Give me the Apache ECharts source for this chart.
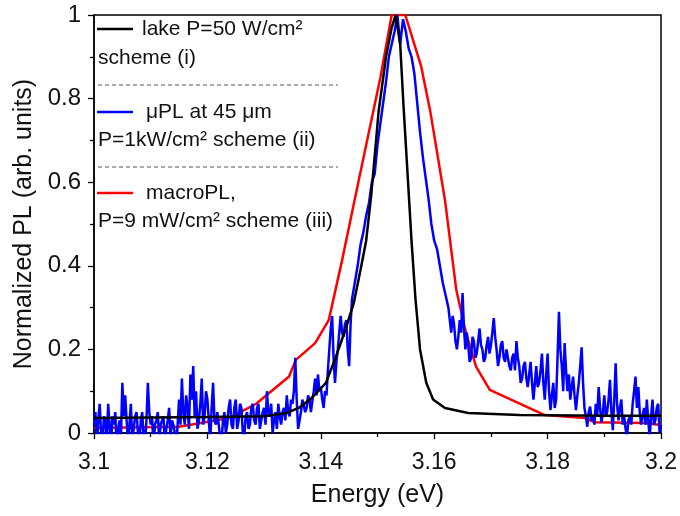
<!DOCTYPE html>
<html><head><meta charset="utf-8">
<script src="https://cdn.jsdelivr.net/npm/echarts@6/dist/echarts.min.js"></script>
<style>html,body{margin:0;padding:0;background:#fff}#c{width:680px;height:516px}</style>
</head><body><div id="c"></div>
<script>
// Energy (eV) and normalized PL values
var lakeData = [[3.1000,0.036],[3.1100,0.037],[3.1200,0.038],[3.1300,0.040],[3.1340,0.048],[3.1361,0.060],[3.1384,0.084],[3.1409,0.12],[3.1426,0.18],[3.1444,0.25],[3.1458,0.31],[3.1470,0.39],[3.1480,0.46],[3.1489,0.57],[3.1502,0.77],[3.1515,0.90],[3.1525,0.97],[3.1532,1.0],[3.1540,0.93],[3.1546,0.78],[3.1553,0.62],[3.1560,0.46],[3.1567,0.32],[3.1575,0.20],[3.1586,0.12],[3.1598,0.08],[3.1619,0.06],[3.1660,0.048],[3.1750,0.043],[3.1900,0.041],[3.2000,0.041]];

var macroData = [[3.1000,0.012],[3.1150,0.015],[3.1239,0.036],[3.1286,0.07],[3.1344,0.135],[3.1356,0.175],[3.1390,0.215],[3.1414,0.27],[3.1437,0.41],[3.1467,0.605],[3.1505,0.85],[3.1525,1.0],[3.1549,1.0],[3.1577,0.877],[3.1593,0.77],[3.1619,0.557],[3.1639,0.342],[3.1656,0.24],[3.1674,0.158],[3.1698,0.103],[3.1795,0.043],[3.1865,0.036],[3.1882,0.026],[3.1970,0.024],[3.2000,0.019]];

var muPLData = [
[3.1000,0.02],[3.10025,0.05],[3.1005,-0.03],[3.10075,0.03],[3.1010,0.07],[3.10125,0.00],[3.1015,-0.02],[3.10175,0.04],[3.1020,0.03],[3.10225,-0.02],
[3.1025,0.07],[3.10275,0.02],[3.1030,-0.03],[3.10325,0.04],[3.1035,0.02],[3.10375,0.05],[3.1040,-0.04],[3.10425,0.01],[3.1045,0.03],[3.10475,-0.01],
[3.1050,0.12],[3.10525,0.04],[3.1055,0.09],[3.10575,0.03],[3.1060,-0.02],[3.10625,0.02],[3.1065,0.07],[3.10675,-0.02],[3.1070,0.01],[3.10725,0.04],
[3.1075,0.05],[3.10775,0.00],[3.1080,-0.03],[3.10825,0.03],[3.1085,0.05],[3.10875,-0.01],[3.1090,-0.02],[3.10925,0.03],[3.1095,0.12],[3.10975,0.05],
[3.1100,0.02],[3.11025,0.04],[3.1105,-0.04],[3.11075,0.02],[3.1110,0.03],[3.11125,0.05],[3.1115,-0.02],[3.11175,0.02],[3.1120,0.02],[3.11225,0.04],
[3.1125,-0.03],[3.11275,0.01],[3.1130,0.03],[3.11325,0.06],[3.1135,-0.01],[3.11375,0.03],[3.1140,0.02],[3.11425,0.00],[3.1145,-0.03],[3.11475,0.02],
[3.1150,0.08],[3.11525,0.02],[3.1155,0.13],[3.11575,0.05],[3.1160,0.02],[3.11625,0.09],[3.1165,0.06],[3.11675,0.01],[3.1170,0.14],[3.11725,0.08],
[3.1175,0.16],[3.11775,0.04],[3.1180,0.10],[3.11825,0.01],[3.1185,0.03],[3.11875,0.07],[3.1190,0.13],[3.11925,0.02],[3.1195,0.04],[3.11975,0.10],
[3.1200,0.08],[3.12025,0.03],[3.1205,-0.02],[3.12075,0.06],[3.1210,0.12],[3.12125,0.03],[3.1215,0.02],[3.12175,0.05],[3.1220,0.05],[3.12225,-0.01],
[3.1225,-0.02],[3.12275,0.03],[3.1230,0.05],[3.12325,0.00],[3.1235,0.02],[3.12375,0.06],[3.1240,0.08],[3.12425,0.02],[3.1245,0.01],[3.12475,0.06],
[3.1250,0.08],[3.12525,0.01],[3.1255,0.03],[3.12575,0.07],[3.1260,0.06],[3.12625,0.00],[3.1265,-0.01],[3.12675,0.04],[3.1270,0.05],[3.12725,0.01],
[3.1275,0.02],[3.12775,0.06],[3.1280,0.07],[3.12825,0.03],[3.1285,0.02],[3.12875,0.06],[3.1290,0.07],[3.12925,0.01],[3.1295,0.03],[3.12975,0.05],
[3.1300,0.06],[3.13025,0.02],[3.1305,0.10],[3.13075,0.05],[3.1310,0.04],[3.13125,0.07],[3.1315,0.00],[3.13175,0.03],[3.1320,0.05],[3.13225,0.01],
[3.1325,0.07],[3.13275,0.04],[3.1330,0.02],[3.13325,0.05],[3.1335,0.06],[3.13375,0.03],[3.1340,0.09],[3.13425,0.05],[3.1345,0.04],[3.13475,0.08],
[3.1350,0.07],[3.13525,0.10],[3.1355,0.18],[3.13575,0.08],[3.1360,0.01],[3.13625,0.03],[3.1365,0.05],[3.13675,0.08],[3.1370,0.08],[3.13725,0.05],
[3.1375,0.06],[3.13775,0.09],[3.1380,0.08],[3.13825,0.05],[3.1385,0.05],[3.13875,0.10],[3.1390,0.13],[3.13925,0.09],[3.1395,0.14],[3.13975,0.10],
[3.1400,0.11],[3.14025,0.08],[3.1405,0.06],[3.14075,0.10],[3.1410,0.09],[3.14125,0.15],[3.1415,0.20],[3.14175,0.25],[3.1420,0.28],[3.14225,0.18],
[3.1425,0.12],[3.14275,0.17],[3.1430,0.20],[3.14325,0.24],[3.1435,0.28],[3.14375,0.24],[3.1440,0.23],[3.14425,0.26],[3.1445,0.27],[3.14475,0.20],
[3.1450,0.16],[3.14525,0.26],[3.1455,0.32],[3.14575,0.34],[3.1460,0.36],[3.1465,0.40],[3.1470,0.45],[3.1475,0.48],[3.1480,0.52],[3.1485,0.55],
[3.1490,0.60],[3.1495,0.62],[3.1500,0.69],[3.1505,0.74],[3.1510,0.79],[3.1515,0.84],[3.1520,0.90],[3.1525,0.93],[3.1530,0.96],[3.1535,1.00],
[3.1540,0.93],[3.1545,0.99],[3.1550,0.96],[3.1555,0.92],[3.1560,0.90],[3.1565,0.86],[3.1570,0.79],[3.1575,0.72],[3.1580,0.66],[3.1585,0.61],
[3.1590,0.56],[3.1595,0.50],[3.1600,0.46],[3.1605,0.44],[3.1610,0.40],[3.1615,0.36],[3.1620,0.33],[3.1625,0.30],
[3.1630,0.24],[3.16325,0.28],[3.1635,0.26],[3.16375,0.22],[3.1640,0.20],[3.16425,0.23],[3.1645,0.27],[3.16475,0.24],[3.1650,0.335],[3.16525,0.25],
[3.1655,0.20],[3.16575,0.24],[3.1660,0.21],[3.16625,0.17],[3.1665,0.18],[3.16675,0.23],[3.1670,0.22],[3.16725,0.18],[3.1675,0.19],[3.16775,0.22],
[3.1680,0.25],[3.16825,0.21],[3.1685,0.20],[3.16875,0.17],[3.1690,0.18],[3.16925,0.21],[3.1695,0.23],[3.16975,0.19],[3.1700,0.21],[3.17025,0.24],
[3.1705,0.275],[3.17075,0.23],[3.1710,0.20],[3.17125,0.16],[3.1715,0.18],[3.17175,0.21],[3.1720,0.22],[3.17225,0.18],[3.1725,0.17],[3.17275,0.20],
[3.1730,0.20],[3.17325,0.16],[3.1735,0.15],[3.17375,0.18],[3.1740,0.19],[3.17425,0.15],[3.1745,0.22],[3.17475,0.18],[3.1750,0.16],[3.17525,0.12],
[3.1755,0.13],[3.17575,0.16],[3.1760,0.17],[3.17625,0.13],[3.1765,0.11],[3.17675,0.14],[3.1770,0.17],[3.17725,0.12],[3.1775,0.08],[3.17775,0.12],
[3.1780,0.16],[3.17825,0.11],[3.1785,0.12],[3.17875,0.15],[3.1790,0.19],[3.17925,0.12],[3.1795,0.08],[3.17975,0.14],[3.1800,0.19],[3.18025,0.10],
[3.1805,0.055],[3.18075,0.09],[3.1810,0.12],[3.18125,0.06],[3.1815,0.08],[3.18175,0.18],[3.1820,0.29],[3.18225,0.20],[3.1825,0.16],[3.18275,0.10],
[3.1830,0.215],[3.18325,0.15],[3.1835,0.10],[3.18375,0.14],[3.1840,0.08],[3.18425,0.11],[3.1845,0.135],[3.18475,0.09],[3.1850,0.055],[3.18525,0.09],
[3.1855,0.12],[3.18575,0.16],[3.1860,0.205],[3.18625,0.12],[3.1865,0.06],[3.18675,0.04],[3.1870,0.015],[3.18725,0.05],[3.1875,0.063],[3.18775,0.03],
[3.1880,0.04],[3.18825,0.02],[3.1885,0.07],[3.18875,0.04],[3.1890,0.11],[3.18925,0.06],[3.1895,0.025],[3.18975,0.05],[3.1900,0.09],[3.19025,0.04],
[3.1905,0.05],[3.19075,0.08],[3.1910,0.127],[3.19125,0.05],[3.1915,0.007],[3.19175,0.08],[3.1920,0.167],[3.19225,0.07],[3.1925,0.03],[3.19275,0.06],
[3.1930,0.08],[3.19325,0.02],[3.1935,0.04],[3.19375,0.01],[3.1940,-0.01],[3.19425,0.03],[3.1945,0.04],[3.19475,0.02],[3.1950,0.07],[3.19525,0.10],
[3.1955,0.135],[3.19575,0.06],[3.1960,0.11],[3.19625,0.05],[3.1965,0.02],[3.19675,0.04],[3.1970,0.06],[3.19725,0.02],[3.1975,0.08],[3.19775,0.03],
[3.1980,-0.01],[3.19825,0.04],[3.1985,0.08],[3.19875,0.02],[3.1990,0.03],[3.19925,0.06],[3.1995,0.07],[3.19975,0.00],[3.2000,0.02]];

var xTicks = ['3.1','3.12','3.14','3.16','3.18','3.2'];
var yTicks = ['0','0.2','0.4','0.6','0.8','1'];
var legendLines = ['lake P=50 W/cm²','scheme (i)','μPL at 45 μm','P=1kW/cm² scheme (ii)','macroPL,','P=9 mW/cm² scheme (iii)'];

var FONT = 'Liberation Sans';
var chart = echarts.init(document.getElementById('c'), null, {renderer:'canvas'});
var axisCommon = {
  axisLine:{show:true,onZero:false,lineStyle:{color:'#000',width:1.5}},
  axisTick:{show:true,inside:false,length:6,lineStyle:{color:'#000',width:1.3}},
  minorTick:{show:true,splitNumber:2,length:4,lineStyle:{color:'#000',width:1.3}},
  splitLine:{show:false}
};
function txt(x,y,s){return {type:'text',x:x,y:y,style:{text:s,fontFamily:FONT,fontSize:21,fill:'#111',verticalAlign:'middle'},z:100};}
function seg(x1,x2,y,color){return {type:'line',shape:{x1:x1,y1:y,x2:x2,y2:y},style:{stroke:color,lineWidth:2.5},z:100};}
function dash(y){return {type:'line',shape:{x1:98,y1:y,x2:338,y2:y},style:{stroke:'#555',lineWidth:1,lineDash:[4,3]},z:100};}

chart.setOption({
  animation:false,
  grid:{left:94,right:16,top:15,bottom:83,show:true,borderColor:'#000',borderWidth:1.5,backgroundColor:'transparent'},
  xAxis:Object.assign({type:'value',min:3.1,max:3.2,interval:0.02,
    name:'Energy (eV)',nameLocation:'middle',nameGap:50,
    nameTextStyle:{color:'#111',fontFamily:FONT,fontSize:25}},axisCommon,
    {axisLabel:{color:'#111',fontFamily:FONT,fontSize:23,margin:18,formatter:function(v){var i=Math.round((v-3.1)/0.02);return xTicks[i]||'';}}}),
  yAxis:Object.assign({type:'value',min:0,max:1,interval:0.2,
    name:'Normalized PL (arb. units)',nameLocation:'middle',nameGap:55,
    nameTextStyle:{color:'#111',fontFamily:FONT,fontSize:25}},axisCommon,
    {axisLabel:{color:'#111',fontFamily:FONT,fontSize:24,margin:13,formatter:function(v){var i=Math.round(v/0.2);return yTicks[i]||'';}}}),
  series:[
    {name:'macroPL',type:'line',data:macroData,showSymbol:false,clip:true,lineStyle:{color:'#ff0000',width:2.5},z:2},
    {name:'μPL',type:'line',data:muPLData,showSymbol:false,clip:true,lineStyle:{color:'#0000ff',width:2.5},z:3},
    {name:'lake',type:'line',data:lakeData,showSymbol:false,clip:true,lineStyle:{color:'#000',width:2.5},z:4}
  ],
  graphic:[
    seg(97,133,29,'#000'), txt(142,29,legendLines[0]),
    txt(98,58,legendLines[1]),
    dash(85),
    seg(97,133,112,'#0000ff'), txt(146,112,legendLines[2]),
    txt(98,140,legendLines[3]),
    dash(167),
    seg(97,133,193,'#ff0000'), txt(146,193,legendLines[4]),
    txt(98,221,legendLines[5])
  ]
});
</script></body></html>
